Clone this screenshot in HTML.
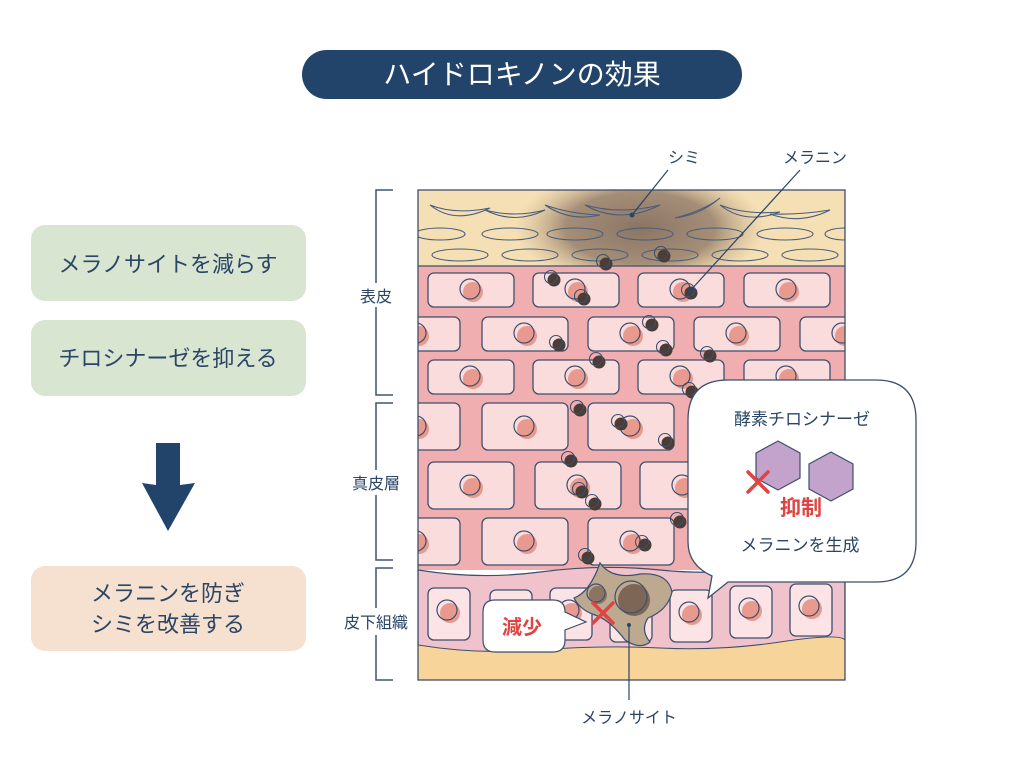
<!DOCTYPE html>
<html><head><meta charset="utf-8"><style>
html,body{margin:0;padding:0;background:#fff;}
svg{display:block;}
text{font-family:"Liberation Sans","Noto Sans CJK JP",sans-serif;}
</style></head><body>
<svg width="1024" height="768" viewBox="0 0 1024 768" xmlns="http://www.w3.org/2000/svg">
<defs>
<radialGradient id="spot" cx="0.5" cy="0.5" r="0.5">
<stop offset="0" stop-color="#8a7564"/><stop offset="0.6" stop-color="#9b8570" stop-opacity="0.9"/><stop offset="1" stop-color="#c9b08a" stop-opacity="0"/>
</radialGradient>
<clipPath id="frame"><rect x="418" y="190" width="427" height="490"/></clipPath>
<clipPath id="epi"><rect x="418" y="190" width="427" height="76"/></clipPath>
<g id="cellW"><rect x="0" y="0" width="86" height="34" rx="6" fill="#fadcdc" stroke="#3d4f6d" stroke-width="1.3"/><circle cx="45" cy="19" r="10" fill="#e99a8e"/><circle cx="42" cy="16" r="10" fill="none" stroke="#3d4f6d" stroke-width="1.2"/></g>
<g id="cellT"><rect x="0" y="0" width="86" height="47" rx="6" fill="#fadcdc" stroke="#3d4f6d" stroke-width="1.3"/><circle cx="45" cy="26" r="10" fill="#e99a8e"/><circle cx="42" cy="23" r="10" fill="none" stroke="#3d4f6d" stroke-width="1.2"/></g>
<g id="cellS"><rect x="0" y="0" width="42" height="52" rx="6" fill="#fbe3e6" stroke="#3d4f6d" stroke-width="1.3"/><circle cx="22" cy="25" r="10" fill="#e99a8e"/><circle cx="19" cy="22" r="10" fill="none" stroke="#3d4f6d" stroke-width="1.2"/></g>
<g id="mel"><circle cx="2" cy="2" r="6.5" fill="#4a3c36"/><circle cx="-1" cy="-1" r="6.5" fill="none" stroke="#3d4f6d" stroke-width="1.1"/></g>
</defs>

<rect x="302" y="50" width="440" height="49" rx="24.5" fill="#22446a"/>
<text x="522" y="84" font-size="28" fill="#fff" text-anchor="middle">ハイドロキノンの効果</text>

<rect x="31" y="225" width="275" height="76" rx="14" fill="#d8e5d1"/>
<text x="168" y="272" font-size="22" fill="#2b4566" text-anchor="middle">メラノサイトを減らす</text>
<rect x="31" y="320" width="275" height="76" rx="14" fill="#d8e5d1"/>
<text x="168" y="366" font-size="22" fill="#2b4566" text-anchor="middle">チロシナーゼを抑える</text>
<polygon points="156,443 180,443 180,485 195,483 168,531 142,483 156,485" fill="#22446a"/>
<rect x="31" y="566" width="275" height="85" rx="14" fill="#f6e0cf"/>
<text x="168" y="601" font-size="22" fill="#2b4566" text-anchor="middle">メラニンを防ぎ</text>
<text x="168" y="632" font-size="22" fill="#2b4566" text-anchor="middle">シミを改善する</text>

<g stroke="#3d5577" stroke-width="1.5" fill="none">
<polyline points="393,190 376,190 376,283"/><polyline points="376,307 376,395 393,395"/>
<polyline points="393,403 376,403 376,470"/><polyline points="376,495 376,560 393,560"/>
<polyline points="393,568 376,568 376,608"/><polyline points="376,635 376,680 393,680"/>
</g>
<text x="376" y="302" font-size="16" fill="#2b4566" text-anchor="middle">表皮</text>
<text x="376" y="489" font-size="16" fill="#2b4566" text-anchor="middle">真皮層</text>
<text x="376" y="628" font-size="16" fill="#2b4566" text-anchor="middle">皮下組織</text>

<g clip-path="url(#frame)">
<rect x="418" y="190" width="427" height="76" fill="#f5dfb5"/>
<g clip-path="url(#epi)"><ellipse cx="640" cy="228" rx="125" ry="60" fill="url(#spot)"/></g>
<g fill="none" stroke="#4a5c7c" stroke-width="1.1">
<path d="M430,205 Q455,225 490,208 Q455,215 430,205Z"/><path d="M485,210 Q515,225 545,210Q515,218 485,210Z"/>
<path d="M545,205 Q570,222 600,215 Q570,214 545,205Z"/><path d="M585,205 Q620,225 660,205 Q620,215 585,205Z"/>
<path d="M675,218 Q705,210 720,198 Q700,215 675,218Z"/><path d="M720,205 Q745,225 780,212 Q745,215 720,205Z"/>
<path d="M770,214 Q800,225 830,210 Q800,215 770,214Z"/>
<ellipse cx="440" cy="234" rx="25" ry="6"/><ellipse cx="510" cy="234" rx="28" ry="6"/><ellipse cx="575" cy="234" rx="28" ry="6"/>
<ellipse cx="645" cy="234" rx="28" ry="6"/><ellipse cx="715" cy="234" rx="28" ry="6"/><ellipse cx="785" cy="234" rx="28" ry="6"/><ellipse cx="845" cy="234" rx="20" ry="6"/>
<ellipse cx="460" cy="255" rx="28" ry="6"/><ellipse cx="530" cy="255" rx="28" ry="6"/><ellipse cx="600" cy="255" rx="28" ry="6"/>
<ellipse cx="670" cy="255" rx="28" ry="6"/><ellipse cx="740" cy="255" rx="28" ry="6"/><ellipse cx="810" cy="255" rx="28" ry="6"/>
</g>
<rect x="418" y="266" width="427" height="304" fill="#f0aeb0"/>
<line x1="418" y1="266" x2="845" y2="266" stroke="#3d4f6d" stroke-width="1.2"/>
<use href="#cellW" x="428" y="273"/><use href="#cellW" x="533" y="273"/><use href="#cellW" x="638" y="273"/><use href="#cellW" x="744" y="273"/>
<use href="#cellW" x="374" y="317"/><use href="#cellW" x="482" y="317"/><use href="#cellW" x="588" y="317"/><use href="#cellW" x="694" y="317"/><use href="#cellW" x="800" y="317"/>
<use href="#cellW" x="428" y="360"/><use href="#cellW" x="533" y="360"/><use href="#cellW" x="638" y="360"/><use href="#cellW" x="744" y="360"/>
<use href="#cellT" x="374" y="403"/><use href="#cellT" x="482" y="403"/><use href="#cellT" x="588" y="403"/><use href="#cellT" x="694" y="403"/>
<use href="#cellT" x="428" y="462"/><use href="#cellT" x="535" y="462"/><use href="#cellT" x="640" y="462"/>
<use href="#cellT" x="374" y="518"/><use href="#cellT" x="482" y="518"/><use href="#cellT" x="588" y="518"/>
<path d="M418,570 Q480,580 540,572 T660,570 T780,566 T845,562 L845,680 L418,680Z" fill="#f0c2cc" stroke="#3d4f6d" stroke-width="1.2"/>
<use href="#cellS" x="428" y="588"/><use href="#cellS" x="490" y="590"/><use href="#cellS" x="550" y="588"/><use href="#cellS" x="610" y="590"/>
<use href="#cellS" x="670" y="590"/><use href="#cellS" x="730" y="586"/><use href="#cellS" x="790" y="584"/>
<path d="M418,645 Q480,655 540,650 T660,648 T780,642 T845,640 L845,680 L418,680Z" fill="#f7d49a" stroke="#3d4f6d" stroke-width="1"/>
<use href="#mel" x="604" y="262"/><use href="#mel" x="662" y="254"/><use href="#mel" x="552" y="278"/><use href="#mel" x="582" y="297"/>
<use href="#mel" x="689" y="291"/><use href="#mel" x="650" y="323"/><use href="#mel" x="557" y="343"/><use href="#mel" x="664" y="348"/>
<use href="#mel" x="708" y="354"/><use href="#mel" x="597" y="360"/><use href="#mel" x="690" y="390"/><use href="#mel" x="578" y="408"/>
<use href="#mel" x="619" y="422"/><use href="#mel" x="666" y="441"/><use href="#mel" x="569" y="459"/><use href="#mel" x="580" y="490"/>
<use href="#mel" x="593" y="502"/><use href="#mel" x="678" y="520"/><use href="#mel" x="586" y="556"/><use href="#mel" x="643" y="543"/>
<path d="M600,563 Q612,580 640,574 Q668,572 672,592 Q668,610 648,618 Q640,630 650,642 Q640,650 625,640 Q610,620 595,615 Q580,610 574,598 Q590,592 600,563Z" fill="#bca98f" stroke="#3d4f6d" stroke-width="1.2"/>
<circle cx="634" cy="600" r="16" fill="#7e6656"/><circle cx="631" cy="597" r="16" fill="none" stroke="#3d4f6d" stroke-width="1.2"/>
<circle cx="598" cy="595" r="9" fill="#8d7462"/><circle cx="596" cy="593" r="9" fill="none" stroke="#3d4f6d" stroke-width="1.2"/>
</g>
<rect x="418" y="190" width="427" height="490" fill="none" stroke="#3d4f6d" stroke-width="1.3"/>

<path d="M495,600 H553 Q565,600 565,612 L586,622 L565,630 V640 Q565,652 553,652 H495 Q483,652 483,640 V612 Q483,600 495,600Z" fill="#fff" stroke="#3d4f6d" stroke-width="1.2"/>
<text x="522" y="634" font-size="20" font-weight="bold" fill="#e04442" text-anchor="middle">減少</text>
<g stroke="#e04442" stroke-width="3.5" stroke-linecap="round"><line x1="593" y1="603" x2="613" y2="623"/><line x1="613" y1="603" x2="593" y2="623"/></g>

<path d="M728,380 H876 Q916,380 916,420 V542 Q916,582 876,582 H728 L708,598 L712,576 Q688,565 688,542 V420 Q688,380 728,380Z" fill="#fff" stroke="#3d4f6d" stroke-width="1.3"/>
<text x="802" y="425" font-size="17" fill="#2b4566" text-anchor="middle">酵素チロシナーゼ</text>
<polygon points="778,441 800,453 800,478 778,490 756,478 756,453" fill="#c3a3cb" stroke="#3d4f6d" stroke-width="1.2"/>
<polygon points="831,452 853,464 853,489 831,501 809,489 809,464" fill="#c3a3cb" stroke="#3d4f6d" stroke-width="1.2"/>
<g stroke="#e04442" stroke-width="3.5" stroke-linecap="round"><line x1="748" y1="472" x2="768" y2="492"/><line x1="768" y1="472" x2="748" y2="492"/></g>
<text x="801" y="515" font-size="21" font-weight="bold" fill="#e04442" text-anchor="middle">抑制</text>
<text x="800" y="551" font-size="17" fill="#2b4566" text-anchor="middle">メラニンを生成</text>

<g stroke="#2b4566" stroke-width="1.2"><line x1="668" y1="170" x2="632" y2="215"/><line x1="800" y1="170" x2="690" y2="291"/><line x1="629" y1="625" x2="629" y2="700"/></g>
<circle cx="632" cy="215" r="2.5" fill="#2b4566"/><circle cx="690" cy="291" r="2.5" fill="#2b4566"/><circle cx="629" cy="625" r="2" fill="#2b4566"/>
<text x="684" y="163" font-size="16" fill="#2b4566" text-anchor="middle">シミ</text>
<text x="815" y="163" font-size="16" fill="#2b4566" text-anchor="middle">メラニン</text>
<text x="629" y="723" font-size="16" fill="#2b4566" text-anchor="middle">メラノサイト</text>
</svg>
</body></html>
